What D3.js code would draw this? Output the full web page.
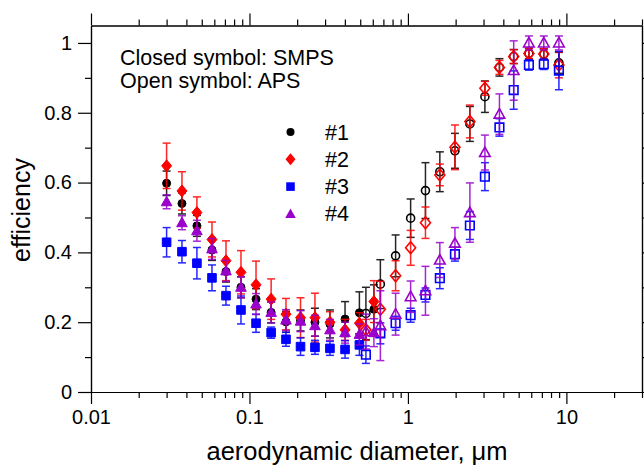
<!DOCTYPE html>
<html>
<head>
<meta charset="utf-8">
<script src="https://cdn.jsdelivr.net/npm/d3@7"></script>
<style>
  body { margin: 0; background: #fff; }
  svg text { font-family: "Liberation Sans", Arial, sans-serif; fill: #000; }
</style>
</head>
<body>
<svg id="chart" width="644" height="466"></svg>
<script>
// particle sizes (um) for the two instruments
const xClosed = [0.030, 0.0375, 0.0466, 0.058, 0.0711, 0.0884, 0.110, 0.137, 0.170, 0.210, 0.259, 0.322, 0.401, 0.494, 0.610]
const xOpen = [0.543, 0.670, 0.836, 1.04, 1.29, 1.59, 1.98, 2.46, 3.06, 3.78, 4.65, 5.80, 7.20, 8.97]

// efficiency, closed = SMPS, open = APS
const s1Closed = [0.598, 0.540, 0.476, 0.407, 0.345, 0.300, 0.266, 0.228, 0.201, 0.205, 0.200, 0.195, 0.209, 0.227, 0.237]
const s1ClosedErr = [0.035, 0.03, 0.03, 0.03, 0.03, 0.03, 0.03, 0.03, 0.03, 0.03, 0.04, 0.04, 0.05, 0.06, 0.07]
const s1Open = [0.225, 0.309, 0.390, 0.498, 0.577, 0.631, 0.691, 0.768, 0.846, 0.930, 0.961, 0.970, 0.968, 0.943]
const s1OpenErr = [0.075, 0.07, 0.06, 0.055, 0.08, 0.057, 0.05, 0.05, 0.045, 0.025, 0.02, 0.015, 0.015, 0.03]

const s2Closed = [0.648, 0.576, 0.514, 0.437, 0.376, 0.343, 0.307, 0.266, 0.223, 0.213, 0.213, 0.200, 0.178, 0.197, 0.259]
const s2ClosedErr = [0.065, 0.055, 0.045, 0.05, 0.057, 0.062, 0.068, 0.058, 0.045, 0.057, 0.07, 0.03, 0.03, 0.03, 0.06]
const s2Open = [0.178, 0.237, 0.333, 0.413, 0.485, 0.622, 0.701, 0.775, 0.870, 0.930, 0.961, 0.970, 0.968, 0.937]
const s2OpenErr = [0.03, 0.08, 0.043, 0.05, 0.045, 0.031, 0.064, 0.047, 0.02, 0.02, 0.02, 0.015, 0.015, 0.037]

const s3Closed = [0.429, 0.402, 0.369, 0.327, 0.276, 0.235, 0.197, 0.170, 0.151, 0.130, 0.128, 0.125, 0.122, 0.135, null]
const s3ClosedErr = [0.042, 0.032, 0.045, 0.037, 0.027, 0.04, 0.026, 0.016, 0.02, 0.025, 0.02, 0.02, 0.025, 0.03, null]
const s3Open = [0.107, 0.168, 0.197, 0.220, 0.278, 0.326, 0.395, 0.477, 0.617, 0.758, 0.865, 0.937, 0.939, 0.921]
const s3OpenErr = [0.025, 0.03, 0.02, 0.02, 0.02, 0.03, 0.02, 0.04, 0.04, 0.025, 0.055, 0.015, 0.015, 0.055]

const s4Closed = [0.545, 0.485, 0.462, 0.410, 0.347, 0.300, 0.252, 0.228, 0.206, 0.203, 0.190, 0.178, 0.170, 0.165, 0.170]
const s4ClosedErr = [0.02, 0.02, 0.03, 0.03, 0.03, 0.03, 0.03, 0.03, 0.03, 0.03, 0.03, 0.03, 0.03, 0.03, 0.04]
const s4Open = [0.173, 0.190, 0.223, 0.273, 0.290, 0.378, 0.426, 0.514, 0.686, 0.796, 0.921, 1.000, 1.000, 1.000]
const s4OpenErr = [0.05, 0.1, 0.06, 0.045, 0.07, 0.05, 0.045, 0.085, 0.05, 0.058, 0.085, 0.02, 0.02, 0.02]

const seriesNames = ['#1', '#2', '#3', '#4']
const seriesColors = ['#000000', '#ff0000', '#0000ff', '#9900cc']
const seriesShapes = ['circle', 'diamond', 'square', 'triangle']

const xMajor = [0.01, 0.1, 1, 10]
const xMajorLabels = ['0.01', '0.1', '1', '10']
const yMajor = [0, 0.2, 0.4, 0.6, 0.8, 1]
const yMajorLabels = ['0', '0.2', '0.4', '0.6', '0.8', '1']

const svg = d3.select('#chart')
const plotLeft = 91, plotRight = 642, plotTop = 25.5, plotBottom = 392

const x = d3.scaleLog().domain([0.01, 30]).range([plotLeft, plotRight])
const y = d3.scaleLinear().domain([0, 1.05]).range([plotBottom, plotTop])

// minor log ticks: 2..9 in each decade, up to 30
const xMinor = x.ticks().filter(v => xMajor.indexOf(v) < 0 && v <= 30)
const yMinor = [0.1, 0.3, 0.5, 0.7, 0.9]

function axis (gen, scale, vals, size, labels) {
  return gen(scale).tickValues(vals).tickSize(size).tickSizeOuter(0)
    .tickFormat(labels ? (d, i) => labels[i] : () => '')
}

function styleAxis (g) {
  g.select('.domain').attr('stroke', '#000').attr('stroke-width', 1.2)
  g.selectAll('line').attr('stroke', '#000').attr('stroke-width', 1.2)
  g.selectAll('text').attr('font-size', 20).attr('font-family', '"Liberation Sans", Arial, sans-serif')
}

// bottom
svg.append('g').attr('transform', `translate(0,${plotBottom})`)
  .call(axis(d3.axisBottom, x, xMinor, 6)).call(styleAxis)
svg.append('g').attr('transform', `translate(0,${plotBottom})`)
  .call(axis(d3.axisBottom, x, xMajor, 12, xMajorLabels).tickPadding(6)).call(styleAxis)
// top
svg.append('g').attr('transform', `translate(0,${plotTop})`)
  .call(axis(d3.axisTop, x, xMinor, 6)).call(styleAxis)
svg.append('g').attr('transform', `translate(0,${plotTop})`)
  .call(axis(d3.axisTop, x, xMajor, 12)).call(styleAxis)
// left
svg.append('g').attr('transform', `translate(${plotLeft},0)`)
  .call(axis(d3.axisLeft, y, yMinor, 6)).call(styleAxis)
svg.append('g').attr('transform', `translate(${plotLeft},0)`)
  .call(axis(d3.axisLeft, y, yMajor, 13, yMajorLabels).tickPadding(6)).call(styleAxis)
// right
svg.append('g').attr('transform', `translate(${plotRight},0)`)
  .call(axis(d3.axisRight, y, yMinor, 6)).call(styleAxis)
svg.append('g').attr('transform', `translate(${plotRight},0)`)
  .call(axis(d3.axisRight, y, yMajor, 12)).call(styleAxis)

// axis titles
svg.append('text').attr('x', 357).attr('y', 460).attr('text-anchor', 'middle')
  .attr('font-size', 25.5).text('aerodynamic diameter, \u03bcm')
svg.append('text').attr('transform', 'translate(30,210) rotate(-90)').attr('text-anchor', 'middle')
  .attr('font-size', 25).text('efficiency')

// annotation
svg.append('text').attr('x', 120).attr('y', 65).attr('font-size', 21.5).text('Closed symbol: SMPS')
svg.append('text').attr('x', 120).attr('y', 88).attr('font-size', 21.5).text('Open symbol: APS')

function shapePath (shape) {
  if (shape === 'circle') return 'M4,0A4,4 0 1,1 -4,0A4,4 0 1,1 4,0Z'
  if (shape === 'diamond') return 'M0,-6L5,0L0,6L-5,0Z'
  if (shape === 'square') return 'M-4.3,-4.3H4.3V4.3H-4.3Z'
  return 'M0,-5.5L5.3,4L-5.3,4Z'
}

function drawPoints (xs, ys, errs, color, shape, open) {
  let pts = xs.map((v, i) => ({ x: v, y: ys[i], e: errs[i] })).filter(d => d.y != null)
  let g = svg.append('g')
  let eb = g.selectAll('g.err').data(pts).join('g').attr('class', 'err')
    .attr('stroke', color).attr('stroke-width', 1.5).attr('opacity', 0.85)
  eb.append('line')
    .attr('x1', d => x(d.x)).attr('x2', d => x(d.x))
    .attr('y1', d => y(d.y - d.e)).attr('y2', d => y(d.y + d.e))
  eb.append('line')
    .attr('x1', d => x(d.x) - 4).attr('x2', d => x(d.x) + 4)
    .attr('y1', d => y(d.y + d.e)).attr('y2', d => y(d.y + d.e))
  eb.append('line')
    .attr('x1', d => x(d.x) - 4).attr('x2', d => x(d.x) + 4)
    .attr('y1', d => y(d.y - d.e)).attr('y2', d => y(d.y - d.e))
  g.selectAll('path').data(pts).join('path')
    .attr('transform', d => `translate(${x(d.x)},${y(d.y)})`)
    .attr('d', shapePath(shape))
    .attr('fill', open ? 'none' : color)
    .attr('stroke', color)
    .attr('stroke-width', open ? 1.6 : 1)
}

const closedSets = [[s1Closed, s1ClosedErr], [s2Closed, s2ClosedErr], [s3Closed, s3ClosedErr], [s4Closed, s4ClosedErr]]
const openSets = [[s1Open, s1OpenErr], [s2Open, s2OpenErr], [s3Open, s3OpenErr], [s4Open, s4OpenErr]]

seriesNames.forEach((n, i) => {
  drawPoints(xClosed, closedSets[i][0], closedSets[i][1], seriesColors[i], seriesShapes[i], false)
  drawPoints(xOpen, openSets[i][0], openSets[i][1], seriesColors[i], seriesShapes[i], true)
})

// legend
const legend = svg.append('g')
seriesNames.forEach((n, i) => {
  let ly = 132 + i * 27.3
  legend.append('path').attr('transform', `translate(290.5,${ly})`)
    .attr('d', shapePath(seriesShapes[i])).attr('fill', seriesColors[i])
  legend.append('text').attr('x', 325).attr('y', ly + 7.5).attr('font-size', 21.5).text(n)
})
</script>
</body>
</html>
